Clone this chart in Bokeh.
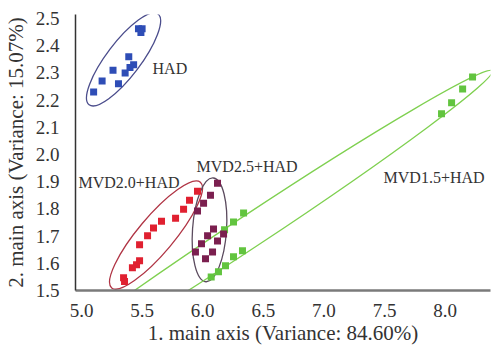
from bokeh.plotting import figure
from bokeh.models import FixedTicker, PrintfTickFormatter, Range1d
from bokeh.core.properties import value
from bokeh.embed import file_html
from bokeh.resources import INLINE

# PCA scores per treatment group (1st / 2nd main axis)
had_x = [5.47, 5.50, 5.49, 5.39, 5.43, 5.40, 5.36, 5.26, 5.305, 5.17, 5.10]
had_y = [2.463, 2.463, 2.449, 2.36, 2.33, 2.32, 2.30, 2.31, 2.26, 2.27, 2.23]

mvd20_x = [5.957, 5.891, 5.842, 5.776, 5.660, 5.594, 5.545, 5.479, 5.479, 5.454, 5.42, 5.347, 5.355]
mvd20_y = [1.865, 1.832, 1.799, 1.766, 1.755, 1.730, 1.701, 1.668, 1.609, 1.595, 1.584, 1.547, 1.533]

mvd25_x = [6.122, 6.064, 6.007, 5.957, 6.089, 6.172, 6.04, 6.122, 5.99, 6.081, 5.94, 6.023]
mvd25_y = [1.894, 1.850, 1.821, 1.792, 1.726, 1.708, 1.701, 1.682, 1.672, 1.642, 1.642, 1.617]

mvd15_x = [6.337, 6.254, 6.18, 6.328, 6.254, 6.188, 6.13, 6.07, 8.226, 8.144, 8.053, 7.970]
mvd15_y = [1.785, 1.752, 1.723, 1.646, 1.624, 1.591, 1.569, 1.55, 2.285, 2.241, 2.190, 2.150]

group_names = ["HAD", "MVD2.0+HAD", "MVD2.5+HAD", "MVD1.5+HAD"]

x_ticks = [5.0, 5.5, 6.0, 6.5, 7.0, 7.5, 8.0]
y_ticks = [1.5, 1.6, 1.7, 1.8, 1.9, 2.0, 2.1, 2.2, 2.3, 2.4, 2.5]

SERIF = "Liberation Serif"

p = figure(width=491, height=347, output_backend="svg", toolbar_location=None,
           x_range=Range1d(4.9505, 8.374), y_range=Range1d(1.5, 2.515),
           min_border_left=75, min_border_right=1, min_border_top=14,
           min_border_bottom=55)
p.outline_line_color = None
p.grid.visible = False
p.background_fill_color = "white"

# group enclosures: centre in data space, size/angle on screen
enclosures = [
    dict(x=5.347, y=2.350, w=114, h=34, a=52.8, c="#4b4d8c"),
    dict(x=5.615, y=1.704, w=138, h=36, a=50.0, c="#b03545"),
    dict(x=6.056, y=1.723, w=104, h=34, a=86.0, c="#5b4b5e"),
    dict(x=6.394, y=1.719, w=580, h=32, a=33.5, c="#7fd050"),
]
for e in enclosures:
    p.ellipse(x=e["x"], y=e["y"], width=e["w"], height=e["h"],
              width_units="screen", height_units="screen",
              angle=e["a"], angle_units="deg",
              fill_color=None, line_color=e["c"], line_width=1.3)

marker_size = 7
p.scatter(mvd15_x, mvd15_y, marker="square", size=marker_size,
          fill_color="#62c43f", line_color=None)
p.scatter(mvd20_x, mvd20_y, marker="square", size=marker_size,
          fill_color="#e02030", line_color=None)
p.scatter(mvd25_x, mvd25_y, marker="square", size=marker_size,
          fill_color="#7b1f4f", line_color=None)
p.scatter(had_x, had_y, marker="square", size=marker_size,
          fill_color="#2e4db6", line_color=None)

# group labels
label_x = [5.586, 4.975, 5.949, 7.492]
label_y = [2.3175, 1.898, 1.956, 1.916]
p.text(x=label_x, y=label_y, text=group_names,
       text_font=value(SERIF), text_font_size="16px",
       text_color="#333333", text_align="left", text_baseline="middle")

p.xaxis.ticker = FixedTicker(ticks=x_ticks)
p.yaxis.ticker = FixedTicker(ticks=y_ticks)
p.xaxis.formatter = PrintfTickFormatter(format="%.1f")
p.yaxis.formatter = PrintfTickFormatter(format="%.1f")

for ax in (p.xaxis[0], p.yaxis[0]):
    ax.major_tick_line_color = None
    ax.minor_tick_line_color = None
    ax.major_label_text_font = SERIF
    ax.major_label_text_font_size = "19px"
    ax.major_label_text_color = "#333333"
    ax.axis_label_text_font = SERIF
    ax.axis_label_text_font_size = "21px"
    ax.axis_label_text_font_style = "normal"
    ax.axis_label_text_color = "#333333"

p.xaxis.axis_label = "1. main axis (Variance: 84.60%)"
p.yaxis.axis_label = "2. main axis (Variance: 15.07%)"
p.xaxis.axis_line_color = "#7a7a7a"
p.xaxis.axis_line_width = 2.5
p.yaxis.axis_line_color = "#333333"
p.yaxis.axis_line_width = 1.5
p.xaxis.major_label_standoff = 7
p.xaxis.axis_label_standoff = 1
p.yaxis.major_label_standoff = 10
p.yaxis.axis_label_standoff = 5

open("out.html", "w").write(file_html(p, INLINE))
